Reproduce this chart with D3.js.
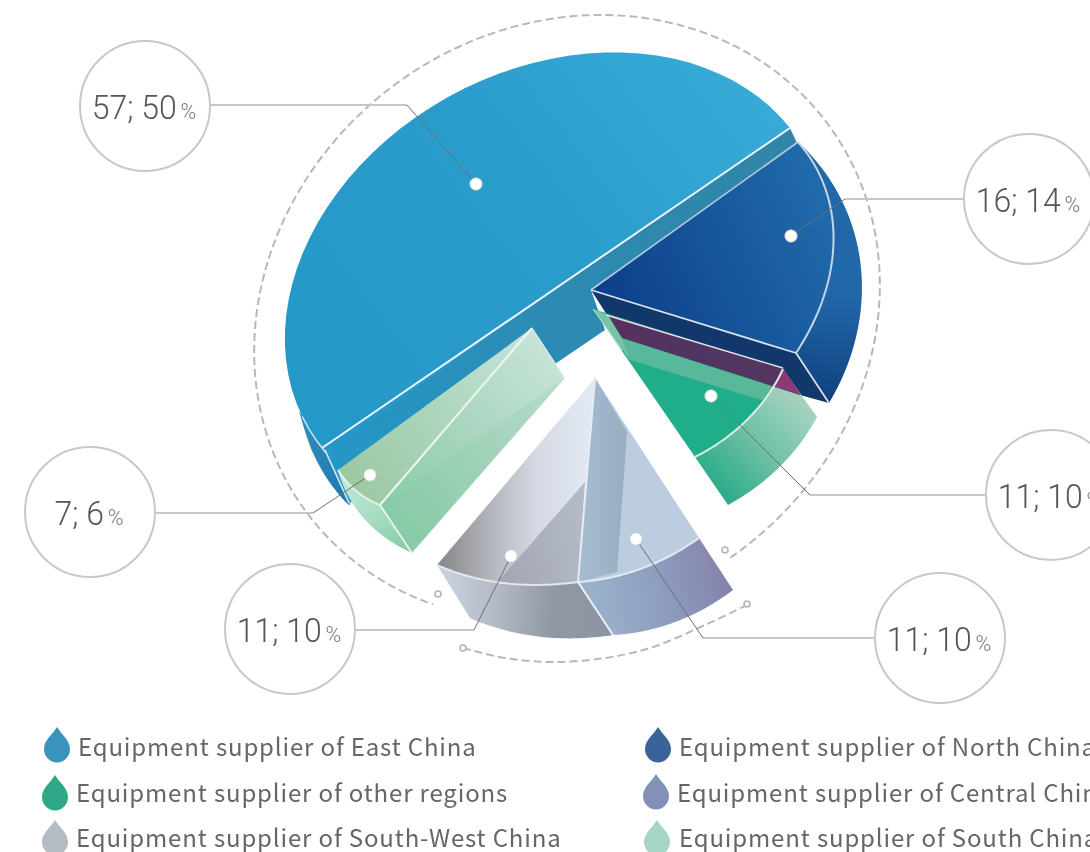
<!DOCTYPE html>
<html><head><meta charset="utf-8">
<style>html,body{margin:0;padding:0;background:#fff;overflow:hidden}svg{display:block;filter:blur(.45px)}</style>
<script src="https://cdn.jsdelivr.net/npm/d3@7/dist/d3.min.js"></script>
</head><body><svg id="c" width="1090" height="852"></svg>
<script>
// ---- data ----
const categories=["Equipment supplier of East China","Equipment supplier of North China","Equipment supplier of other regions","Equipment supplier of Central China","Equipment supplier of South-West China","Equipment supplier of South China"];
const counts=[57,16,11,11,11,7];
const percents=[50,14,10,10,10,6];
const legendColors=["#3a93ba","#3b6399","#2fa888","#8391b8","#b5bcc4","#a5d5c5"];

// ---- layout of the exploded, tilted pie: one projection frame per slice ----
const topFrames=[
 {apex:[556,288],s:[234,-160],v:[-137,-173],k:1},
 {apex:[591,290],start:[798,142],end:[796,353],k:1.25},
 {apex:[593,309],start:[783,369],end:[695,457],k:1.1},
 {apex:[595,378],start:[699,538],end:[578,582],k:1},
 {apex:[595,378],start:[578,582],end:[437,565],k:1},
 {apex:[532,328],start:[380,505],end:[338,470],k:1}];
const outerFrames=[
 null,
 {apex:[610,310],start:[798,142],end:[829,403],k:1.4},
 {apex:[625,342],start:[817,417],end:[728,505],k:1},
 {apex:[620,420],start:[733,590],end:[613,635],k:1},
 {apex:[600,420],start:[613,635],end:[470,618],k:1},
 {apex:[590,370],start:[412,553],end:[338,470],k:1.6}];
const dots=[[476,184],[791,236],[711,396],[636,539],[511,556],[370,475]];
const elbows=[[[211,105],[407,105]],[[964,199],[845,199]],[[986,495],[810,495]],[[875,638],[703,638]],[[355,630],[474,630]],[[155,513],[313,513]]];
const bubbles=[[145,106],[1029,199],[1051,495],[940,638],[290,629],[90,512]];

const svg=d3.select("#c"),defs=svg.append("defs");
const line=d3.line(),smooth=d3.line().curve(d3.curveCatmullRom);
const pie=d3.pie().sort(null).value(d=>d)(counts);
const sweep=pie.map(d=>d.endAngle-d.startAngle);

function grad(id,p,stops){
  const g=defs.append("linearGradient").attr("id",id).attr("gradientUnits","userSpaceOnUse")
   .attr("x1",p[0]).attr("y1",p[1]).attr("x2",p[2]).attr("y2",p[3]);
  stops.forEach((c,i)=>g.append("stop").attr("offset",i/(stops.length-1)).attr("stop-color",c));
  return `url(#${id})`;
}
function arcPts(f,sw){
  const a=sw*f.k,n=48,A=f.apex;
  let s,w;
  if(f.v){s=f.s;w=f.v;}
  else{
    s=[f.start[0]-A[0],f.start[1]-A[1]];
    const e=[f.end[0]-A[0],f.end[1]-A[1]];
    w=[(e[0]-s[0]*Math.cos(a))/Math.sin(a),(e[1]-s[1]*Math.cos(a))/Math.sin(a)];
  }
  return d3.range(n+1).map(i=>{const t=a*i/n;return [A[0]+s[0]*Math.cos(t)+w[0]*Math.sin(t),A[1]+s[1]*Math.cos(t)+w[1]*Math.sin(t)];});
}
const topArc=i=>arcPts(topFrames[i],sweep[i]);
const outArc=i=>arcPts(outerFrames[i],sweep[i]);
const band=i=>topArc(i).concat(outArc(i).reverse());
const wedge=i=>[topFrames[i].apex].concat(topArc(i));
function poly(pts,fill,o={}){
  return svg.append("path").attr("d",line(pts)+"Z").attr("fill",fill)
   .attr("stroke",o.stroke||"none").attr("stroke-width",o.w||0).attr("stroke-linejoin","round").attr("opacity",o.op==null?1:o.op);
}
function stroke(pts,c,w){svg.append("path").attr("d",line(pts)).attr("fill","none").attr("stroke",c).attr("stroke-width",w);}

// ---- dashed guide ellipse ----
(function(){
  const cx=567,cy=318,rx=325,ry=290,ca=.8,sa=-.6;
  const P=t=>{const a=rx*Math.cos(t),b=ry*Math.sin(t);return [cx+a*ca-b*sa,cy+a*sa+b*ca];};
  const inv=p=>{const dx=p[0]-cx,dy=p[1]-cy;return Math.atan2((-dx*sa+dy*ca)/ry,(dx*ca+dy*sa)/rx);};
  let t0=inv([725,550]),t1=inv([438,594]);
  while(t1>t0)t1-=Math.PI*2;
  const long=d3.range(241).map(i=>P(t0+(t1-t0)*i/240));
  svg.append("path").attr("d",line(long)).attr("fill","none").attr("stroke","#b8b8b8").attr("stroke-width",2).attr("stroke-dasharray","8 4");
  const low=[[463,648],[505,658],[553,662],[605,658],[653,647],[705,625],[747,605]];
  svg.append("path").attr("d",smooth(low)).attr("fill","none").attr("stroke","#b8b8b8").attr("stroke-width",2).attr("stroke-dasharray","8 4");
  [[725,550],[438,594],[463,648],[747,604]].forEach(p=>svg.append("circle").attr("cx",p[0]).attr("cy",p[1]).attr("r",3).attr("fill","#fff").attr("stroke","#b5b5b5").attr("stroke-width",1.6));
})();

// ---- East ----
svg.append("path").attr("d",smooth([[299,411],[313,453],[333,487],[350,505],[326,450]])+"Z").attr("fill",grad("g0s",[300,420,350,500],["#2f8fbd","#2078ad"]));
poly([[322,448],[790,128],[797,143],[591,290],[605,330],[350,503]],grad("g0w",[330,480,790,130],["#2498c8","#2d8ab2","#3185a8"]));
poly(wedge(0),grad("g0t",[330,420,770,80],["#2498c7","#2a9ccb","#38abd9"]));
stroke([[322,448],[790,128]],"#eef5f8",2);
stroke([[325,450],[349,503]],"#d7e8ef",1.6);
stroke(topArc(0).slice(-4),"#d7e8ef",1.4);

// ---- North ----
poly([[591,290],[796,353],[829,403],[800,395],[607,315]],"#12376a");
poly(band(1),grad("g1b",[830,180,800,400],["#2168a9","#2168a9","#10407f"]));
poly(wedge(1),grad("g1t",[600,300,820,200],["#0d3d8a","#16549a","#2069aa"]));
stroke(topArc(1),"#c5d6e6",2);
stroke([[591,290],[798,142]],"#b7cbdc",1.6);
stroke([[591,290],[796,353]],"#d7e1ea",1.8);
stroke([[796,353],[829,403]],"#d7e1ea",1.8);

// ---- other regions ----
poly(wedge(2),"#20ad8a");
poly(band(2),grad("g2b",[715,500,815,410],["#22a986","#6dbea4","#a5d7c5"]));
poly([[593,309],[608,315],[622,338],[630,360]],"#79c4a8");
poly([[622,338],[800,395],[817,417],[630,360]],"#a8c8b0",{op:.42});
poly([[608,315],[783,368],[800,395],[622,338]],grad("g2p",[610,330,790,370],["#5a2f5f","#4f3660","#553660"]));
poly([[783,368],[801,395],[774,386]],"#8c3a74");
stroke(topArc(2),"#d9ece6",2);
stroke([[606,315],[783,368]],"#e3e3ea",1.4);
stroke([[593,309],[622,350]],"#cfe3dc",1);

// ---- South ----
poly(band(5),grad("g5b",[340,480,410,550],["#c1e8d6","#a8dcc3","#86caa6"]));
poly([[532,328],[565,378],[412,553],[380,505]],grad("g5w",[385,520,565,370],["#86cba6","#a9d5bf","#c6e3d7"]),{stroke:"#edf5f1",w:1});
poly([[380,505],[565,378],[412,553]],"#83c9a8",{op:.22});
poly(wedge(5),grad("g5t",[345,470,530,340],["#9dc9a3","#add6bd","#c5e3d8"]));
stroke([[380,505],[532,328]],"#eef6f2",2);
stroke(topArc(5),"#e6f3ec",1.8);
stroke([[380,505],[412,553]],"#e6f3ec",1.8);

// ---- South-West ----
poly(band(4),grad("g4b",[440,590,610,600],["#c9d2df","#b4bac5","#8f98a3","#8c95a1"]));
poly(wedge(4),grad("g4t",[440,500,585,500],["#878889","#b1b4bb","#d4d9e3","#e2e8f1"]));
poly([[585,482]].concat(topArc(4).slice(0,27)),grad("g4i",[505,560,585,540],["#a3a8b4","#b4bac5"]));
// ---- Central ----
poly(band(3),grad("g3b",[585,620,735,590],["#9bb4cc","#8e9fc0","#8480aa"]));
poly(wedge(3),"#bccde0");
poly([[595,378],[627,432],[617,572],[578,582]],grad("g3s",[585,500,625,500],["#a5bbd0","#99adc1"]));
stroke(topArc(3),"#e2eaf2",2);
stroke(topArc(4),"#e2e7ef",2);
stroke([[595,378],[578,582]],"#e5ecf3",2);
stroke([[578,582],[613,635]],"#eef2f6",2);

// ---- leaders, dots, bubbles ----
dots.forEach((d,i)=>{
  const e=elbows[i];
  stroke(e,"#c6c6c6",2);
  stroke([e[1],d],"#6e6e6e",1);
  svg.append("circle").attr("cx",d[0]).attr("cy",d[1]).attr("r",6.2).attr("fill","#fff").attr("stroke","#c9c9c9").attr("stroke-width",.8);
});
bubbles.forEach((b,i)=>{
  svg.append("circle").attr("cx",b[0]).attr("cy",b[1]).attr("r",65).attr("fill","#fff").attr("stroke","#c8c8c8").attr("stroke-width",2);
  const t=svg.append("text").attr("transform",`translate(${b[0]-1},${b[1]+13}) scale(.97,1)`).attr("text-anchor","middle").attr("fill","#555")
    .attr("font-family","Roboto,sans-serif").attr("font-weight",300).attr("font-size",33);
  t.append("tspan").text(`${counts[i]}; ${percents[i]}`);
  t.append("tspan").attr("font-size",22).attr("dx",4).attr("fill","#777").text("%");
});

// ---- legend ----
const legPos=[[57,745,78,756],[658,745,679,756],[55,793,76,802],[656,792,677,802],[55,838,76,847],[657,838,679,847]];
categories.forEach((c,i)=>{
  const p=legPos[i];
  svg.append("path").attr("transform",`translate(${p[0]},${p[1]})`)
   .attr("d","M0,-18C4,-11 13,-5 13,4A13,13.5 0 0 1 -13,4C-13,-5 -4,-11 0,-18Z").attr("fill",legendColors[i]);
  svg.append("text").attr("x",p[2]).attr("y",p[3]).attr("fill","#666").attr("letter-spacing",.85)
   .attr("font-family","'Noto Sans CJK JP','Noto Sans',sans-serif").attr("font-size",24).text(c);
});
</script></body></html>
